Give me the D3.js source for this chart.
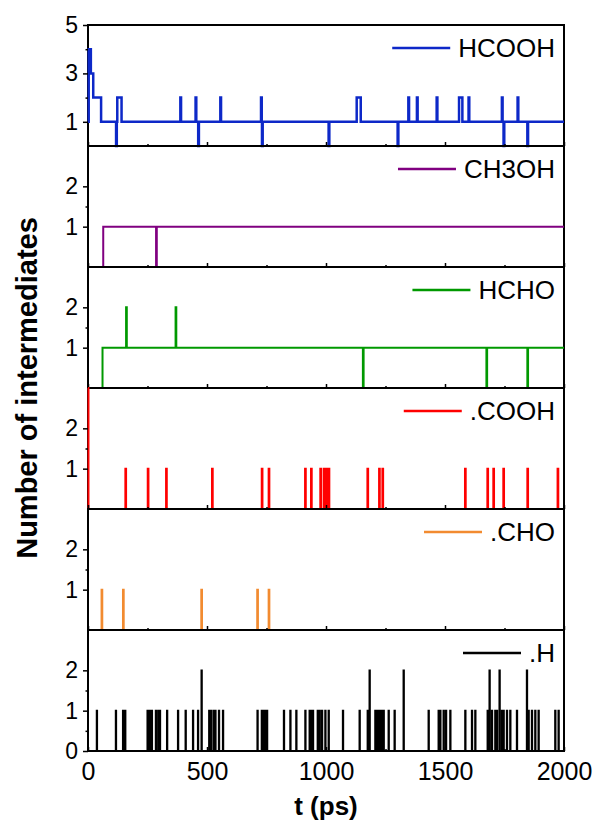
<!DOCTYPE html>
<html>
<head>
<meta charset="utf-8">
<script src="https://cdn.jsdelivr.net/npm/d3@7"></script>
<style>
  body { margin: 0; background: #fff; }
  text { font-family: Arial, "Liberation Sans", sans-serif; fill: #000; }
</style>
</head>
<body>
<div id="chart"></div>
<script>
const width = 595
const height = 825
const margin = {top: 25, left: 88, right: 31, bottom: 74}
const panelH = 121
const spikeW = 3

// Datos: cambios de nivel [t, n] y picos de un solo paso [t, n]
const names = ["HCOOH", "CH3OH", "HCHO", ".COOH", ".CHO", ".H"]
const colors = ["#0d28c8", "#800080", "#009900", "#ff0000", "#f28b30", "#000000"]
const widths = [2.5, 2, 2, 2, 2, 1.6]

const hcoohLevels = [[0, 1], [3, 4], [12, 3], [22, 2], [55, 1], [123, 2], [141, 1], [1129, 2], [1146, 1], [1559, 2], [1573, 1]]
const hcoohSpikes = [[118, 0], [388, 2], [452, 2], [463, 0], [556, 2], [727, 2], [731, 0], [1011, 0], [1301, 0], [1346, 2], [1382, 2], [1465, 2], [1599, 2], [1739, 2], [1746, 0], [1805, 2], [1846, 0]]

const ch3ohLevels = [[0, 0], [64, 1]]
const ch3ohSpikes = [[286, 0]]

const hchoLevels = [[0, 0], [61, 1]]
const hchoSpikes = [[160, 2], [368, 2], [1155, 0], [1674, 0], [1846, 0]]

const coohLevels = [[0, 3], [2, 0]]
const coohSpikes = [[157, 1], [251, 1], [328, 1], [521, 1], [730, 1], [759, 1], [912, 1], [937, 1], [976, 1], [990, 1], [1000, 1], [1011, 1], [1174, 1], [1223, 1], [1237, 1], [1584, 1], [1678, 1], [1703, 1], [1745, 1], [1846, 1], [1973, 1]]

const choLevels = [[0, 0]]
const choSpikes = [[57, 1], [147, 1], [476, 1], [711, 1], [759, 1]]

const hLevels = [[0, 0]]
const hSpikes = [[36, 1], [116, 1], [146, 1], [155, 1], [249, 1], [255, 1], [260, 1], [267, 1], [284, 1], [294, 1], [301, 1], [331, 1], [377, 1], [409, 1], [440, 1], [461, 1], [476, 2], [508, 1], [515, 1], [526, 1], [534, 1], [549, 1], [566, 1],
  [711, 1], [729, 1], [737, 1], [744, 1], [751, 1], [822, 1], [849, 1], [874, 1], [912, 1], [930, 1], [936, 1], [944, 1], [964, 1], [972, 1], [982, 1], [996, 1], [1010, 1], [1070, 1],
  [1140, 1], [1174, 1], [1182, 2], [1206, 1], [1213, 1], [1220, 1], [1227, 1], [1234, 1], [1241, 1], [1262, 1], [1287, 1], [1325, 2], [1430, 1], [1472, 1], [1479, 1], [1493, 1], [1503, 1], [1521, 1],
  [1584, 1], [1612, 1], [1626, 1], [1678, 1], [1686, 2], [1696, 1], [1710, 1], [1717, 1], [1728, 2], [1738, 1], [1745, 1], [1759, 1], [1773, 1], [1801, 1], [1843, 2], [1850, 1], [1864, 1], [1878, 1], [1892, 1], [1962, 1], [1976, 1]]

const levels = [hcoohLevels, ch3ohLevels, hchoLevels, coohLevels, choLevels, hLevels]
const spikes = [hcoohSpikes, ch3ohSpikes, hchoSpikes, coohSpikes, choSpikes, hSpikes]

// Ejes
const yMax = [5, 3, 3, 3, 3, 3]
const yTicks = [[1, 3, 5], [1, 2], [1, 2], [1, 2], [1, 2], [0, 1, 2]]
const yMinor = [[2, 4], [1.5], [1.5], [1.5], [1.5], [0.5, 1.5]]
const xTicks = [0, 500, 1000, 1500, 2000]
const xMinor = [250, 750, 1250, 1750]

const svg = d3.select("#chart")
  .append("svg")
  .attr("width", width)
  .attr("height", height)

svg.append("rect").attr("width", width).attr("height", height).attr("fill", "#fff")

const x = d3.scaleLinear().domain([0, 2000]).range([margin.left, width - margin.right])

function buildSteps(lv, sp) {
  const base = t => {
    let v = lv[0][1]
    lv.forEach(d => { if (d[0] <= t) v = d[1] })
    return v
  }
  const pts = lv.map(d => ({t: d[0], n: d[1]}))
  sp.forEach(s => {
    pts.push({t: s[0], n: s[1]})
    pts.push({t: s[0] + spikeW, n: base(s[0])})
  })
  pts.sort((a, b) => a.t - b.t)
  pts.push({t: 2000, n: base(2000)})
  return pts
}

names.forEach((name, i) => {
  const top = margin.top + i * panelH
  const bottom = top + panelH
  const y = d3.scaleLinear().domain([0, yMax[i]]).range([bottom, top])
  const g = svg.append("g").attr("class", "panel")

  // marco
  g.append("rect")
    .attr("x", x(0)).attr("y", top)
    .attr("width", x(2000) - x(0)).attr("height", panelH)
    .attr("fill", "none").attr("stroke", "#000").attr("stroke-width", 2)

  // datos
  g.append("path")
    .datum(buildSteps(levels[i], spikes[i]))
    .attr("fill", "none")
    .attr("stroke", colors[i])
    .attr("stroke-width", widths[i])
    .attr("d", d3.line().x(d => x(d.t)).y(d => y(d.n)).curve(d3.curveStepAfter))

  // ticks x hacia dentro
  const last = i === names.length - 1
  const xAxisG = g.append("g").attr("transform", `translate(0, ${bottom})`)
    .call(d3.axisBottom(x).tickValues(xTicks).tickSize(-4).tickPadding(11)
      .tickFormat(last ? d3.format("d") : ""))
  xAxisG.select(".domain").remove()
  g.append("g").attr("transform", `translate(0, ${bottom})`)
    .call(d3.axisBottom(x).tickValues(xMinor).tickSize(-2).tickFormat(""))
    .select(".domain").remove()

  // ticks y
  const yAxisG = g.append("g").attr("transform", `translate(${x(0)}, 0)`)
    .call(d3.axisLeft(y).tickValues(yTicks[i]).tickSize(5).tickPadding(5).tickFormat(d3.format("d")))
  yAxisG.select(".domain").remove()
  g.append("g").attr("transform", `translate(${x(0)}, 0)`)
    .call(d3.axisLeft(y).tickValues(yMinor[i]).tickSize(2.5).tickFormat(""))
    .select(".domain").remove()

  g.selectAll(".tick line").attr("stroke", "#000").attr("stroke-width", 1.5)
  yAxisG.selectAll("text").attr("font-size", 23).attr("font-family", "Arial, 'Liberation Sans', sans-serif")
  xAxisG.selectAll("text").attr("font-size", 25).attr("font-family", "Arial, 'Liberation Sans', sans-serif")

  // leyenda
  const label = g.append("text")
    .attr("x", 555).attr("y", top + 23).attr("dy", "0.35em")
    .attr("text-anchor", "end")
    .attr("font-size", 26)
    .text(name)
  const len = label.node().getComputedTextLength()
  g.append("line")
    .attr("x1", 555 - len - 66).attr("x2", 555 - len - 8)
    .attr("y1", top + 23).attr("y2", top + 23)
    .attr("stroke", colors[i]).attr("stroke-width", 2.5)
})

// Titulos de ejes
svg.append("text")
  .attr("transform", `translate(27, ${margin.top + 3 * panelH}) rotate(-90)`)
  .attr("text-anchor", "middle")
  .attr("dy", "0.35em")
  .attr("font-size", 29)
  .attr("font-weight", "bold")
  .text("Number of intermediates")

svg.append("text")
  .attr("x", x(1000)).attr("y", 815)
  .attr("text-anchor", "middle")
  .attr("font-size", 26)
  .attr("font-weight", "bold")
  .text("t (ps)")
</script>
</body>
</html>
